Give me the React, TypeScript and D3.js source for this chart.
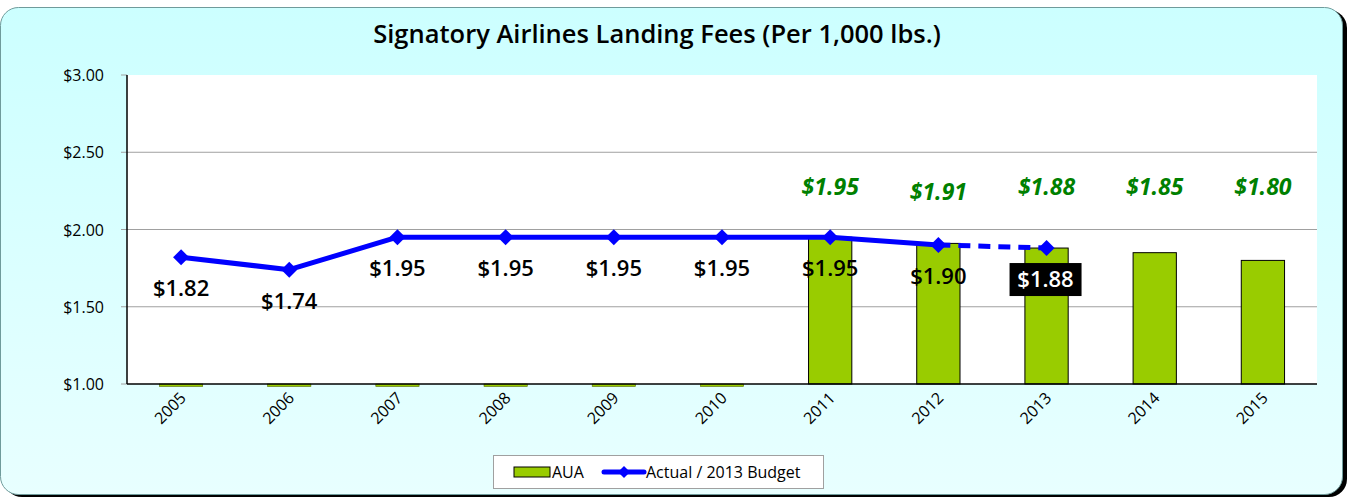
import React from "react";
import * as d3 from "d3";

const years = ["2005", "2006", "2007", "2008", "2009", "2010", "2011", "2012", "2013", "2014", "2015"];
const auaValues = [0, 0, 0, 0, 0, 0, 1.95, 1.91, 1.88, 1.85, 1.8];
const auaLabels = ["", "", "", "", "", "", "$1.95", "$1.91", "$1.88", "$1.85", "$1.80"];
const actualValues = [1.82, 1.74, 1.95, 1.95, 1.95, 1.95, 1.95, 1.9, 1.88];
const actualLabels = ["$1.82", "$1.74", "$1.95", "$1.95", "$1.95", "$1.95", "$1.95", "$1.90", "$1.88"];
const yTicks = [1.0, 1.5, 2.0, 2.5, 3.0];
const budgetIndex = 8;

const W = 1356;
const H = 498;
const plot = { left: 127, right: 1317, top: 75, bottom: 384 };
const FONT = "'Open Sans', 'DejaVu Sans', sans-serif";

export default function App() {
  const x = d3.scaleBand<string>().domain(years).range([plot.left, plot.right]).paddingInner(0.6).paddingOuter(0.3);
  const xc = (y: string) => (x(y) ?? 0) + x.bandwidth() / 2;
  const y = d3.scaleLinear().domain([1, 3]).range([plot.bottom, plot.top]);
  const fmt = (v: number) => "$" + d3.format(".2f")(v);

  const solidPts = actualValues.slice(0, budgetIndex).map((v, i) => [xc(years[i]), y(v)] as [number, number]);
  const dashPts = actualValues.slice(budgetIndex - 1).map((v, i) => [xc(years[i + budgetIndex - 1]), y(v)] as [number, number]);
  const line = d3.line();
  const diamond = (cx: number, cy: number, r: number) => `M${cx},${cy - r}L${cx + r},${cy}L${cx},${cy + r}L${cx - r},${cy}Z`;

  return (
    <svg width={W} height={H} style={{ position: "absolute", left: 0, top: 0 }} fontFamily={FONT}>
      <defs>
        <linearGradient id="bg" x1="0" y1="0" x2="0" y2="1">
          <stop offset="0" stopColor="#ccffff" />
          <stop offset="1" stopColor="#e8ffff" />
        </linearGradient>
      </defs>
      <rect x={4} y={10} width={1343} height={487} rx={18} fill="#000" />
      <rect x={0.5} y={7.5} width={1342} height={487} rx={18} fill="url(#bg)" stroke="#6f9b9b" strokeWidth={1} />
      <text x={657} y={43} textAnchor="middle" fontSize={25.5} fontWeight={600} fill="#000">
        Signatory Airlines Landing Fees (Per 1,000 lbs.)
      </text>
      <rect x={plot.left} y={plot.top} width={plot.right - plot.left} height={plot.bottom - plot.top} fill="#fff" />
      {yTicks.map((t) => (
        <g key={t}>
          {t > 1 && t < 3 && <line x1={plot.left} x2={plot.right} y1={y(t)} y2={y(t)} stroke="#a0a0a0" strokeWidth={1} />}
          <line x1={plot.left - 6} x2={plot.left} y1={y(t)} y2={y(t)} stroke="#a0a0a0" />
          <text x={104} y={y(t) + 6} textAnchor="end" fontSize={16} fill="#000">{fmt(t)}</text>
        </g>
      ))}
      {auaValues.map((v, i) => {
        const top = v > 1 ? y(v) : plot.bottom;
        const bottom = v > 1 ? plot.bottom : plot.bottom + 2.5;
        return (
          <rect key={years[i]} x={x(years[i])} y={top} width={x.bandwidth()} height={bottom - top}
            fill="#99cc00" stroke={v > 1 ? "#000" : "#556b00"} strokeWidth={v > 1 ? 1 : 0.6} />
        );
      })}
      <line x1={plot.left} x2={plot.left} y1={plot.top} y2={plot.bottom} stroke="#000" strokeWidth={1.5} />
      <line x1={plot.left} x2={plot.right} y1={plot.bottom} y2={plot.bottom} stroke="#000" strokeWidth={1.5} />
      {years.map((yr) => (
        <text key={yr} transform={`translate(${xc(yr) + 6},${plot.bottom + 15}) rotate(-45)`} textAnchor="end"
          fontSize={16} fill="#000">{yr}</text>
      ))}
      <path d={line(solidPts) ?? ""} fill="none" stroke="#0000ff" strokeWidth={5} strokeLinejoin="round" />
      <path d={line(dashPts) ?? ""} fill="none" stroke="#0000ff" strokeWidth={5} strokeDasharray="12,8" />
      {actualValues.map((v, i) => (
        <path key={i} d={diamond(xc(years[i]), y(v), 8)} fill="#0000ff" />
      ))}
      {actualValues.map((v, i) => {
        const cx = xc(years[i]);
        const cy = y(v) + 39;
        if (i === budgetIndex) {
          return (
            <g key={i}>
              <rect x={cx - 37} y={cy - 24} width={72} height={33} fill="#000" />
              <text x={cx - 1} y={cy} textAnchor="middle" fontSize={22} fontWeight={600} fill="#fff">{actualLabels[i]}</text>
            </g>
          );
        }
        return (
          <text key={i} x={cx} y={cy} textAnchor="middle" fontSize={22} fontWeight={600} fill="#000">{actualLabels[i]}</text>
        );
      })}
      {auaLabels.map((l, i) => l && (
        <text key={i} x={xc(years[i])} y={auaValues[i] === 1.91 ? 200 : 195} textAnchor="middle" fontSize={23}
          fontStyle="italic" fontWeight="bold" fill="#008000">{l}</text>
      ))}
      <g>
        <rect x={493.5} y={455.5} width={330} height={33} fill="#fff" stroke="#a0a0a0" />
        <rect x={514} y={467} width={36} height={10} fill="#99cc00" stroke="#000" />
        <text x={552} y={478} fontSize={16} fill="#000">AUA</text>
        <line x1={604} x2={644} y1={472} y2={472} stroke="#0000ff" strokeWidth={5} strokeLinecap="round" />
        <path d={diamond(624, 472, 6)} fill="#0000ff" />
        <text x={646} y={478} fontSize={16} fill="#000">Actual / 2013 Budget</text>
      </g>
    </svg>
  );
}
